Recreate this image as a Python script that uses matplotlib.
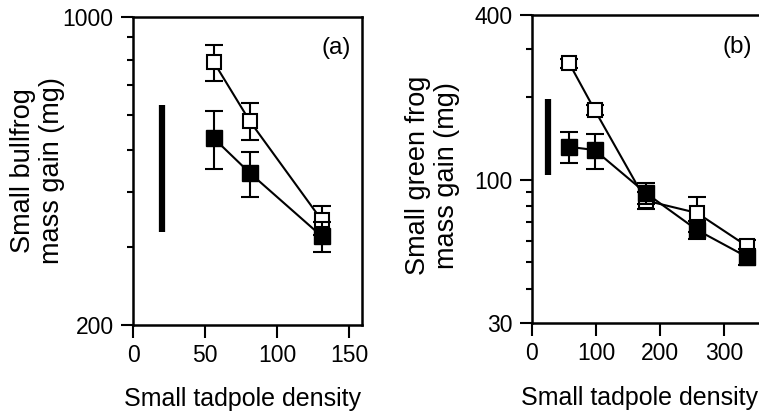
import matplotlib
matplotlib.use("Agg")
import matplotlib.pyplot as plt
from matplotlib.ticker import FixedLocator, NullFormatter

plt.rcParams['font.family'] = ['Liberation Sans', 'DejaVu Sans']
plt.rcParams['font.size'] = 16

# panel (a): small bullfrog
a_x = [56, 81, 131]
a_open = [791, 581, 346]
a_open_err = [75, 56, 26]
a_fill = [531, 443, 318]
a_fill_err = [80, 52, 25]
a_bar_x = 20
a_bar_y = [325, 631]

# panel (b): small green frog
b_x = [58, 98, 178, 258, 336]
b_open = [267, 180, 84, 75.7, 57.3]
b_open_err = [10, 8, 6, 11, 3]
b_fill = [132, 128.5, 89.5, 65.6, 52.3]
b_fill_err = [17, 19, 8, 5, 3.5]
b_bar_x = 25
b_bar_y = [104, 197]

fig = plt.figure(figsize=(7.59, 4.12), dpi=100)
ax1 = fig.add_axes([133/759, 87/412, 229/759, 308/412])
ax2 = fig.add_axes([532/759, 89/412, 229/759, 308/412])


def draw(ax, x, yo, eo, yf, ef, bx, by):
    ax.errorbar(x, yo, yerr=eo, color='black', lw=1.5, marker='s', ms=10,
                mfc='white', mec='black', mew=1.5, capsize=6.5, capthick=1.5,
                elinewidth=1.5, zorder=3)
    ax.errorbar(x, yf, yerr=ef, color='black', lw=1.5, marker='s', ms=11,
                mfc='black', mec='black', capsize=6.5, capthick=1.5,
                elinewidth=1.5, zorder=4)
    ax.plot([bx, bx], by, color='black', lw=4.5, solid_capstyle='butt')
    ax.set_yscale('log')
    for s in ax.spines.values():
        s.set_linewidth(1.8)
    ax.tick_params(which='major', direction='out', length=9, width=1.5, pad=5,
                   labelsize=16.5)
    ax.tick_params(which='minor', direction='out', length=4.5, width=1.5)
    ax.tick_params(axis='x', which='minor', length=0)


draw(ax1, a_x, a_open, a_open_err, a_fill, a_fill_err, a_bar_x, a_bar_y)
ax1.set_xlim(0, 159)
ax1.set_ylim(200, 1000)
ax1.set_xticks([0, 50, 100, 150])
ax1.yaxis.set_major_locator(FixedLocator([200, 1000]))
ax1.yaxis.set_minor_locator(FixedLocator([300, 400, 500, 600, 700, 800, 900]))
ax1.set_yticklabels(['200', '1000'])
ax1.yaxis.set_minor_formatter(NullFormatter())
ax1.set_ylabel('Small bullfrog\nmass gain (mg)', fontsize=19.5, linespacing=1.15)
ax1.yaxis.set_label_coords(-0.297, 0.5)
ax1.set_xlabel('Small tadpole density', fontsize=18)
ax1.xaxis.set_label_coords(0.476, -0.2)
ax1.text(0.886, 0.9, '(a)', transform=ax1.transAxes, ha='center', va='center',
         fontsize=17.5)

draw(ax2, b_x, b_open, b_open_err, b_fill, b_fill_err, b_bar_x, b_bar_y)
ax2.set_xlim(0, 358)
ax2.set_ylim(30, 400)
ax2.set_xticks([0, 100, 200, 300])
ax2.yaxis.set_major_locator(FixedLocator([30, 100, 400]))
ax2.yaxis.set_minor_locator(FixedLocator([40, 50, 60, 70, 80, 90, 200, 300]))
ax2.set_yticklabels(['30', '100', '400'])
ax2.yaxis.set_minor_formatter(NullFormatter())
ax2.set_ylabel('Small green frog\nmass gain (mg)', fontsize=19.5, linespacing=1.15)
ax2.yaxis.set_label_coords(-0.314, 0.48)
ax2.set_xlabel('Small tadpole density', fontsize=18)
ax2.xaxis.set_label_coords(0.47, -0.206)
ax2.text(0.895, 0.896, '(b)', transform=ax2.transAxes, ha='center', va='center',
         fontsize=17.5)

fig.savefig('out.png', dpi=100)
